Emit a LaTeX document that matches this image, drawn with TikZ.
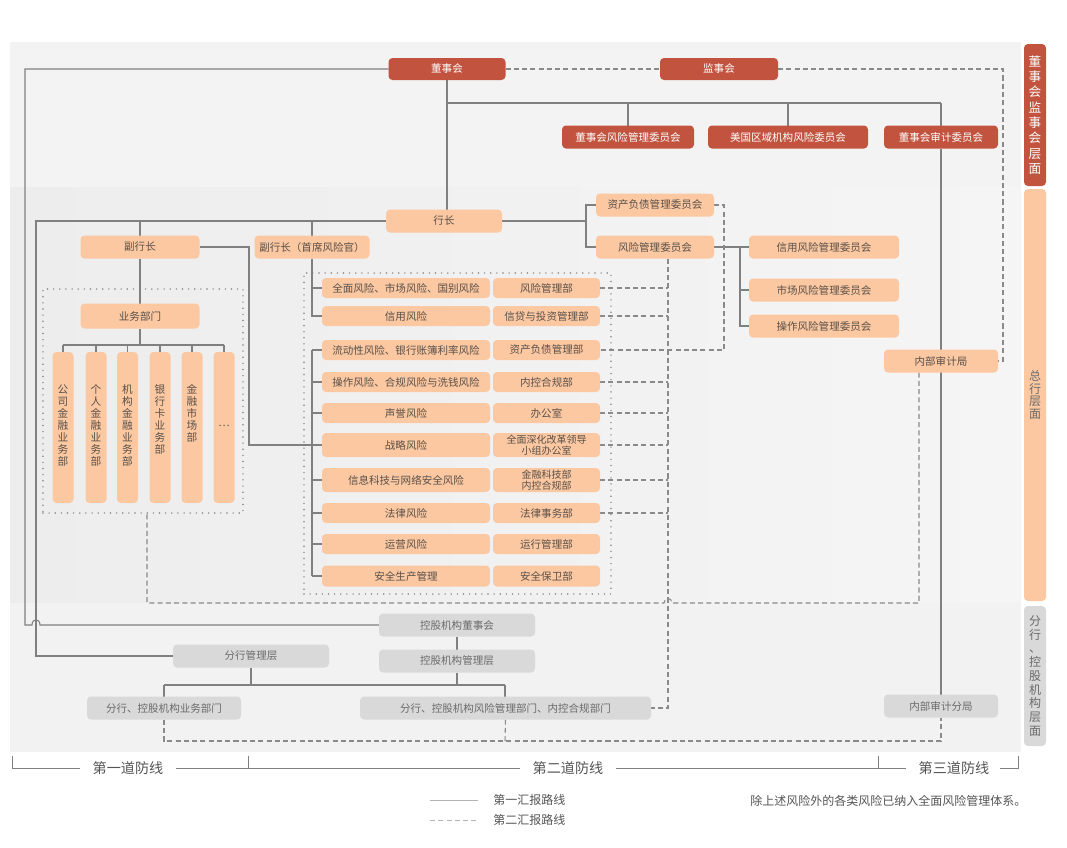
\documentclass[tikz,border=0pt]{standalone}
\usepackage{fontspec}
\setmainfont{Noto Sans CJK SC}
\usetikzlibrary{calc}
\definecolor{cR}{HTML}{C1533F}
\definecolor{cP}{HTML}{FBC8A2}
\definecolor{cG}{HTML}{D9D9D9}
\definecolor{cT}{HTML}{5A5048}
\definecolor{cT2}{HTML}{6A6A6A}
\definecolor{cL}{HTML}{808080}
\definecolor{cD}{HTML}{8A8A8A}
\definecolor{cDot}{HTML}{858585}
\definecolor{bandA}{HTML}{F3F3F3}
\definecolor{bandL}{HTML}{EDEDED}
\definecolor{bandR}{HTML}{F6F5F5}
\definecolor{bandC}{HTML}{F2F2F2}
\definecolor{cTxt}{HTML}{555555}
\newcommand\fmain{\fontsize{7.9}{9.2}\selectfont}
\newcommand\ftwo{\fontsize{7.5}{8.3}\selectfont}
\newcommand\fvbox{\fontsize{8}{9}\selectfont}
\newcommand\fdef{\fontsize{10.6}{12}\selectfont}
\newcommand\fleg{\fontsize{9}{10}\selectfont}
\pgfdeclarelayer{bg}
\pgfdeclarelayer{lines}
\pgfsetlayers{bg,lines,main}
\begin{document}
\begin{tikzpicture}[x=0.75pt,y=-0.75pt,
  sz/.style 2 args={minimum width=#1*0.75pt,minimum height=#2*0.75pt},
  box/.style={inner sep=0pt,outer sep=0pt,rounded corners=3pt,align=center,font=\fmain},
  rbox/.style={box,fill=cR,text=white},
  pbox/.style={box,fill=cP,text=cT},
  gbox/.style={box,fill=cG,text=cT2},
  ln/.style={draw=cL,line width=0.8pt},
  dsh/.style={draw=cD,line width=0.8pt,dash pattern=on 3.8pt off 2.4pt},
  dotb/.style={draw=cDot,line width=1.2pt,line cap=round,dash pattern=on 0pt off 4.6pt,inner sep=0pt,outer sep=0pt},
  vtxt/.style={inner sep=0pt,align=center,font=\fvbox,text=cT,anchor=north},
  deftxt/.style={inner sep=0pt,font=\fdef,text=cTxt},
  legtxt/.style={inner sep=0pt,font=\fleg,text=cTxt,anchor=west},
  defln/.style={draw=cL,line width=0.75pt}
]
\useasboundingbox (0,0) rectangle (1067,847);
\begin{pgfonlayer}{bg}
\fill[white] (0,0) rectangle (1067,847);
\fill[bandA] (10,42) rectangle (1021,187);
\shade[left color=bandL,right color=bandR] (10,187) rectangle (1021,603);
\fill[bandC] (10,603) rectangle (1021,752);
\end{pgfonlayer}

% ---- level strips
\node[rbox,sz={22}{142},font=\fontsize{9.5}{11.5}\selectfont] (s1) at (1035,115) {董\\事\\会\\监\\事\\会\\层\\面};
\node[pbox,sz={22}{412},font=\fontsize{9}{9.6}\selectfont,text=cT2] (s2) at (1035,395) {总\\行\\层\\面};
\node[gbox,sz={22}{140},font=\fontsize{9}{10.3}\selectfont] (s3) at (1035,676) {分\\行\\、\\控\\股\\机\\构\\层\\面};

% ---- board level
\node[rbox,sz={117}{22}] (dsh) at (447,69) {董事会};
\node[rbox,sz={118}{22}] (jsh) at (719,69) {监事会};
\node[rbox,sz={132}{23}] (dfw) at (628,137) {董事会风险管理委员会};
\node[rbox,sz={160}{23}] (mgq) at (788,137) {美国区域机构风险委员会};
\node[rbox,sz={114}{23}] (dsj) at (941,137) {董事会审计委员会};

% ---- head office
\node[pbox,sz={116}{23}] (hz) at (444,221) {行长};
\node[pbox,sz={119}{23}] (fhz) at (140,247) {副行长};
\node[pbox,sz={115}{23}] (fhs) at (312,247) {副行长（首席风险官）};
\node[pbox,sz={118}{23}] (zcw) at (655,205) {资产负债管理委员会};
\node[pbox,sz={118}{23}] (fxw) at (655,247) {风险管理委员会};
\node[pbox,sz={150}{23}] (xyw) at (824,247) {信用风险管理委员会};
\node[pbox,sz={150}{23}] (scw) at (824,290) {市场风险管理委员会};
\node[pbox,sz={150}{23}] (czw) at (824,326) {操作风险管理委员会};
\node[pbox,sz={114}{23}] (nbsj) at (941,361) {内部审计局};

% dotted frames
\node[dotb,sz={200}{224}] (ywk) at (143,401) {};
\node[dotb,sz={307}{321}] (fxk) at (457.5,433.5) {};

% business departments
\node[pbox,sz={119}{25}] (ywbm) at (140,316) {业务部门};
\node[pbox,sz={21}{151}] (v1) at (63,427.5) {};
\node[pbox,sz={21}{151}] (v2) at (96,427.5) {};
\node[pbox,sz={21}{151}] (v3) at (127.5,427.5) {};
\node[pbox,sz={21}{151}] (v4) at (160,427.5) {};
\node[pbox,sz={21}{151}] (v5) at (192,427.5) {};
\node[pbox,sz={21}{151}] (v6) at (224,427.5) {};
\node[vtxt] (t1) at (63,384) {公\\司\\金\\融\\业\\务\\部};
\node[vtxt] (t2) at (96,384) {个\\人\\金\\融\\业\\务\\部};
\node[vtxt] (t3) at (127.5,384) {机\\构\\金\\融\\业\\务\\部};
\node[vtxt] (t4) at (160,384) {银\\行\\卡\\业\\务\\部};
\node[vtxt] (t5) at (192,384) {金\\融\\市\\场\\部};
\node[vtxt,anchor=center] (t6) at (224,426) {…};

% risk rows
\node[pbox,sz={168}{20}] (L1) at (406,288) {全面风险、市场风险、国别风险};
\node[pbox,sz={107}{20}] (R1) at (546.5,288) {风险管理部};
\node[pbox,sz={168}{20}] (L2) at (406,316) {信用风险};
\node[pbox,sz={107}{20}] (R2) at (546.5,316) {信贷与投资管理部};
\node[pbox,sz={168}{20}] (L3) at (406,350) {流动性风险、银行账簿利率风险};
\node[pbox,sz={107}{20}] (R3) at (546.5,350) {资产负债管理部};
\node[pbox,sz={168}{20}] (L4) at (406,382) {操作风险、合规风险与洗钱风险};
\node[pbox,sz={107}{20}] (R4) at (546.5,382) {内控合规部};
\node[pbox,sz={168}{20}] (L5) at (406,413) {声誉风险};
\node[pbox,sz={107}{20}] (R5) at (546.5,413) {办公室};
\node[pbox,sz={168}{24}] (L6) at (406,445) {战略风险};
\node[pbox,sz={107}{24},font=\ftwo] (R6) at (546.5,445) {全面深化改革领导\\小组办公室};
\node[pbox,sz={168}{24}] (L7) at (406,480) {信息科技与网络安全风险};
\node[pbox,sz={107}{24},font=\ftwo] (R7) at (546.5,480) {金融科技部\\内控合规部};
\node[pbox,sz={168}{20}] (L8) at (406,513) {法律风险};
\node[pbox,sz={107}{20}] (R8) at (546.5,513) {法律事务部};
\node[pbox,sz={168}{20}] (L9) at (406,544) {运营风险};
\node[pbox,sz={107}{20}] (R9) at (546.5,544) {运行管理部};
\node[pbox,sz={168}{21}] (L10) at (406,576) {安全生产管理};
\node[pbox,sz={107}{21}] (R10) at (546.5,576) {安全保卫部};

% ---- branch level
\node[gbox,sz={156}{23}] (kgd) at (457,625) {控股机构董事会};
\node[gbox,sz={156}{23}] (kgg) at (457,661) {控股机构管理层};
\node[gbox,sz={156}{23}] (fhg) at (251,656) {分行管理层};
\node[gbox,sz={154}{23}] (fhy) at (164,708) {分行、控股机构业务部门};
\node[gbox,sz={291}{23}] (fhf) at (505.5,708) {分行、控股机构风险管理部门、内控合规部门};
\node[gbox,sz={114}{23}] (nbf) at (941,706) {内部审计分局};

% ---- lines of defence and legend
\node[deftxt] (d1) at (128,768) {第一道防线};
\node[deftxt] (d2) at (568,768) {第二道防线};
\node[deftxt] (d3) at (954,768) {第三道防线};
\coordinate (lg1a) at (430,800);
\coordinate (lg1b) at (478,800);
\coordinate (lg2a) at (430,820);
\coordinate (lg2b) at (478,820);
\node[legtxt] (lt1) at (493,800) {第一汇报路线};
\node[legtxt] (lt2) at (493,820) {第二汇报路线};
\node[legtxt] (note) at (750,801) {除上述风险外的各类风险已纳入全面风险管理体系。};

\begin{pgfonlayer}{lines}
% solid reporting lines
\draw[ln] (dsh.west) -| (25,625) -- (32,625) .. controls (32,618) and (40,618) .. (40,625) -- (kgd.west);
\draw[ln] (dsh.south) -- (dsh.south |- hz.north);
\draw[ln] (447,103) -- (941,103);
\draw[ln] (dfw.north |- 0,103) -- (dfw.north);
\draw[ln] (mgq.north |- 0,103) -- (mgq.north);
\draw[ln] (941,103) -- (dsj.north);
\draw[ln] (dsj.south) -- (nbf.north);
\draw[ln] (hz.west) -| (36,656) -- (fhg.west);
\draw[ln] (fhz.north |- 0,221) -- (fhz.north);
\draw[ln] (fhs.north |- 0,221) -- (fhs.north);
\draw[ln] (hz.east) -- (586,221);
\draw[ln] (zcw.west) -| (586,247) -- (fxw.west);
\draw[ln] (fxw.east) -- (740,247);
\draw[ln] (xyw.west) -| (740,326) -- (czw.west);
\draw[ln] (740,290) -- (scw.west);
\draw[ln] (fhs.south) -- (312,316) -- (L2.west);
\draw[ln] (312,288) -- (L1.west);
\draw[ln] (312,350) -- (312,576);
\foreach \k/\yy in {3/350,4/382,5/413,6/445,7/480,8/513,9/544,10/576} {
  \draw[ln] (312,\yy) -- (L\k.west);
}
\draw[ln] (fhz.east) -- (249,247) -- (249,445) -- (312,445);
\draw[ln] (fhz.south) -- (ywbm.north);
\draw[ln] (ywbm.south) -- (140,345);
\draw[ln] (63,345) -- (224,345);
\foreach \k in {1,...,6} { \draw[ln] (v\k.north |- 0,345) -- (v\k.north); }
\draw[ln] (kgd.south) -- (kgg.north);
\draw[ln] (fhg.south) -- (251,685);
\draw[ln] (164,685) -- (505,685);
\draw[ln] (kgg.south) -- (457,685);
\draw[ln] (164,685) -- (fhy.north);
\draw[ln] (505,685) -- (505,696.5);
% dashed reporting lines
\draw[dsh] (dsh.east) -- (jsh.west);
\draw[dsh] (jsh.east) -| (1003,361) -- (nbsj.east);
\draw[dsh] (zcw.east) -| (724,350) -- (R3.east);
\draw[dsh] ($(fxw.south)+(13,0)$) -- (668,708) -- (fhf.east);
\foreach \k/\yy in {1/288,2/316,4/382,5/413,6/445,7/480,8/513} {
  \draw[dsh] (R\k.east) -- (668,\yy);
}
\draw[dsh] ($(nbsj.south)+(-22,0)$) -- (919,603) -- (672,603) .. controls (672,597) and (664,597) .. (664,603) -- (147,603) -- (147,513);
\draw[dsh] (fhy.south) -- (164,741) -- (941,741) -- (nbf.south);
\draw[dsh] (fhf.south |- 0,719.5) -- (505,741);
% defence brackets
\draw[defln] (12,756) -- (12,768) -- ($(d1.west)+(-12,0)$);
\draw[defln] ($(d1.east)+(12,0)$) -- ($(d2.west)+(-12,0)$);
\draw[defln] (248,756) -- (248,768);
\draw[defln] ($(d2.east)+(12,0)$) -- ($(d3.west)+(-12,0)$);
\draw[defln] (878,756) -- (878,768);
\draw[defln] ($(d3.east)+(10,0)$) -- (1018,768) -- (1018,756);
% legend
\draw[draw=cL!60,line width=0.6pt] (lg1a) -- (lg1b);
\draw[draw=cL!60,line width=0.6pt,dash pattern=on 3.8pt off 2.4pt] (lg2a) -- (lg2b);
\end{pgfonlayer}
\end{tikzpicture}
\end{document}
